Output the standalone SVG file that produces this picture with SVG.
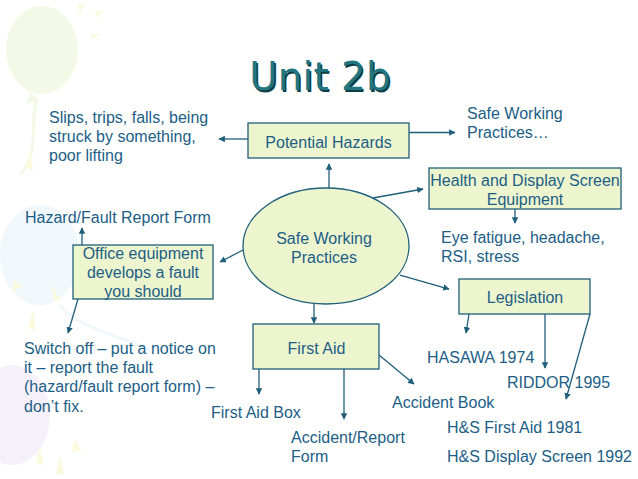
<svg xmlns="http://www.w3.org/2000/svg" width="638" height="479" viewBox="0 0 638 479">
  <defs>
    <style>
      .t { font-family: "Liberation Sans", Arial, sans-serif; font-size: 16px; fill: #215E86; }
      .tc { font-family: "Liberation Sans", Arial, sans-serif; font-size: 16px; fill: #215E86; text-anchor: middle; }
      .box { fill: #EDF5CE; stroke: #1F5F7A; stroke-width: 1.3; }
      .c { stroke: #1F5F7A; stroke-width: 1.3; fill: none; marker-end: url(#ah); }
      .title { font-family: "DejaVu Sans", Verdana, sans-serif; font-size: 39px; text-anchor: middle; }
    </style>
    <marker id="ah" viewBox="0 0 10 10" refX="9" refY="5" markerWidth="5" markerHeight="5" orient="auto" markerUnits="strokeWidth">
      <path d="M0,0 L10,5 L0,10 z" fill="#1F5F7A"/>
    </marker>
  </defs>
  <rect width="638" height="479" fill="#FFFFFF"/>
  <g id="background" opacity="0.4">
    <ellipse cx="42" cy="50" rx="36" ry="44" fill="#E4F2C4"/>
    <path d="M30,92 L40,100 L26,104 z" fill="#E4F2C4"/>
    <path d="M36,100 C30,130 40,150 20,175" stroke="#E4F2C4" stroke-width="3" fill="none"/>
    <path d="M78,6 L84,2 L80,14 z" fill="#F6F4B0"/>
    <path d="M95,12 L104,9 L96,18 z" fill="#F6F4B0"/>
    <path d="M90,34 L102,34 L92,38 z" fill="#F6F4B0"/>
    <path d="M30,150 L33,170 L26,168 z" fill="#F6F4B0"/>
    <ellipse cx="40" cy="255" rx="40" ry="50" fill="#DCEEF8"/>
    <path d="M60,305 C80,330 120,335 150,350" stroke="#DCEEF8" stroke-width="3" fill="none"/>
    <path d="M14,280 L22,286 L12,292 z" fill="#F6F4B0"/>
    <path d="M33,310 L36,330 L28,328 z" fill="#F6F4B0"/>
    <path d="M52,285 L60,300 L54,302 z" fill="#F6F4B0"/>
    <ellipse cx="12" cy="415" rx="38" ry="50" fill="#EADCF4"/>
    <path d="M74,440 L82,450 L72,452 z" fill="#F6F4B0"/>
    <path d="M40,445 L44,465 L36,463 z" fill="#F6F4B0"/>
    <path d="M60,455 L64,475 L56,473 z" fill="#F6F4B0"/>
  </g>
  <g id="title">
    <text class="title" x="321.5" y="91.5" fill="#0D3D45">Unit 2b</text>
    <text class="title" x="320" y="90" fill="#237580">Unit 2b</text>
  </g>
  <g id="connectors">
    <line class="c" x1="248" y1="139" x2="219" y2="139"/>
    <line class="c" x1="409" y1="132.5" x2="455" y2="132.5"/>
    <line class="c" x1="329" y1="188" x2="329" y2="164"/>
    <line class="c" x1="373" y1="198" x2="423" y2="189"/>
    <line class="c" x1="515" y1="209" x2="515" y2="223"/>
    <line class="c" x1="243" y1="250" x2="220" y2="262"/>
    <line class="c" x1="82" y1="245" x2="82" y2="228"/>
    <line class="c" x1="78" y1="299" x2="68" y2="333"/>
    <line class="c" x1="400" y1="275" x2="449" y2="289"/>
    <line class="c" x1="314" y1="304" x2="314" y2="323"/>
    <line class="c" x1="259" y1="369" x2="259" y2="394"/>
    <line class="c" x1="344" y1="369" x2="344" y2="419"/>
    <line class="c" x1="379" y1="355" x2="414" y2="384"/>
    <line class="c" x1="469" y1="314" x2="466" y2="333"/>
    <line class="c" x1="545" y1="314" x2="545" y2="368"/>
    <line class="c" x1="590" y1="314" x2="566" y2="399"/>
  </g>
  <g id="potential-hazards">
    <rect class="box" x="248" y="123" width="161" height="35"/>
    <text class="tc" x="328.5" y="148">Potential Hazards</text>
  </g>
  <g id="slips">
    <text class="t" x="49" y="123">Slips, trips, falls, being</text>
    <text class="t" x="49" y="142">struck by something,</text>
    <text class="t" x="49" y="161">poor lifting</text>
  </g>
  <g id="safe-working-practices-note">
    <text class="t" x="467" y="119">Safe Working</text>
    <text class="t" x="467" y="138">Practices…</text>
  </g>
  <g id="health-display">
    <rect class="box" x="429" y="168" width="192" height="41"/>
    <text class="tc" x="525" y="186">Health and Display Screen</text>
    <text class="tc" x="525" y="205">Equipment</text>
  </g>
  <g id="safe-working-practices">
    <ellipse class="box" cx="326" cy="246" rx="83" ry="58"/>
    <text class="tc" x="324" y="244">Safe Working</text>
    <text class="tc" x="324" y="263">Practices</text>
  </g>
  <g id="eye-fatigue">
    <text class="t" x="441" y="243">Eye fatigue, headache,</text>
    <text class="t" x="441" y="262">RSI, stress</text>
  </g>
  <g id="hazard-form">
    <text class="t" x="25" y="223">Hazard/Fault Report Form</text>
  </g>
  <g id="office-equipment">
    <rect class="box" x="73" y="245" width="140" height="54"/>
    <text class="tc" x="143" y="259">Office equipment</text>
    <text class="tc" x="143" y="278">develops a fault</text>
    <text class="tc" x="143" y="297">you should</text>
  </g>
  <g id="switch-off">
    <text class="t" x="24" y="354">Switch off – put a notice on</text>
    <text class="t" x="24" y="373">it – report the fault</text>
    <text class="t" x="24" y="392">(hazard/fault report form) –</text>
    <text class="t" x="24" y="412">don’t fix.</text>
  </g>
  <g id="legislation">
    <rect class="box" x="459" y="279" width="131" height="35"/>
    <text class="tc" x="525" y="303">Legislation</text>
  </g>
  <g id="first-aid">
    <rect class="box" x="253" y="324" width="126" height="45"/>
    <text class="tc" x="316.5" y="354">First Aid</text>
  </g>
  <g id="first-aid-box">
    <text class="t" x="211" y="418">First Aid Box</text>
  </g>
  <g id="accident-report-form">
    <text class="t" x="291" y="443">Accident/Report</text>
    <text class="t" x="291" y="462">Form</text>
  </g>
  <g id="accident-book">
    <text class="t" x="392" y="408">Accident Book</text>
  </g>
  <g id="hasawa">
    <text class="t" x="427" y="363">HASAWA 1974</text>
  </g>
  <g id="riddor">
    <text class="t" x="507" y="388">RIDDOR 1995</text>
  </g>
  <g id="hs-first-aid">
    <text class="t" x="447" y="433">H&amp;S First Aid 1981</text>
  </g>
  <g id="hs-display">
    <text class="t" x="447" y="462">H&amp;S Display Screen 1992</text>
  </g>
</svg>
